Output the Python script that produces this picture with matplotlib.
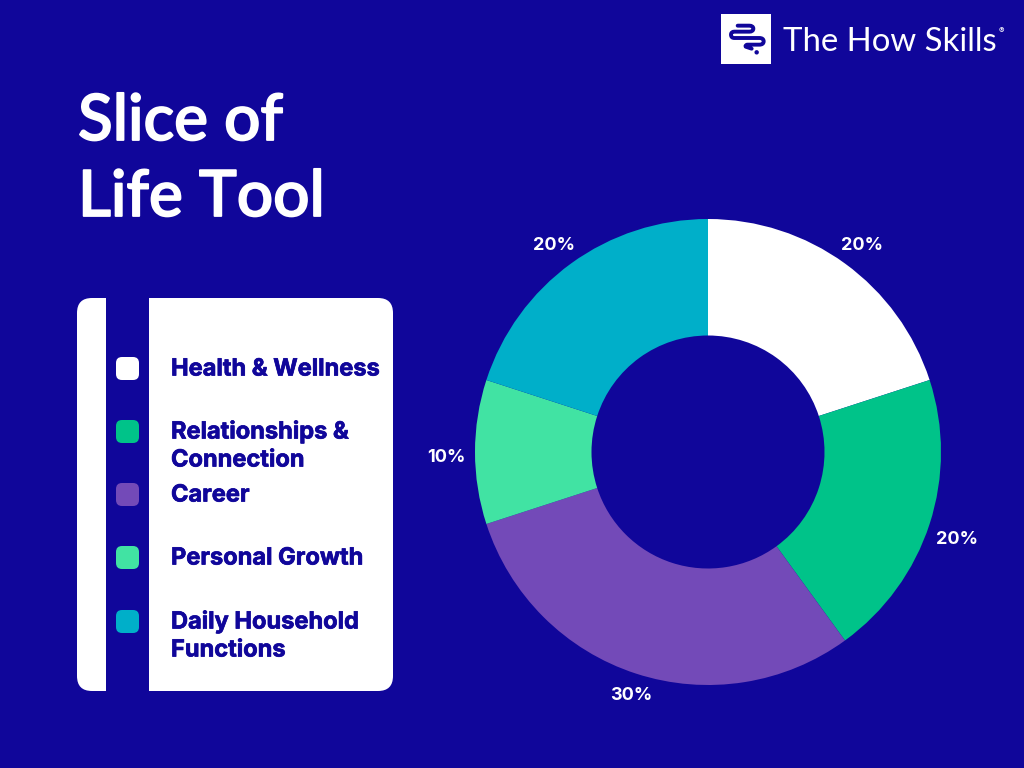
import matplotlib
matplotlib.use('Agg')
import matplotlib.pyplot as plt
import matplotlib.patheffects as pe
from matplotlib.patches import FancyBboxPatch, Rectangle, Circle
from matplotlib.path import Path
from matplotlib.patches import PathPatch

categories = ['Health & Wellness', 'Relationships &\nConnection', 'Career', 'Personal Growth', 'Daily Household\nFunctions']
values = [20, 20, 30, 10, 20]
colors = ['#FFFFFF', '#00C389', '#734AB8', '#41E3A3', '#00AFC9']
legend_y = [368, 431, 494, 557, 621]

navy = '#10069A'

fig = plt.figure(figsize=(10.24, 7.68), dpi=100, facecolor=navy)

# full page axes in pixel coords, for the panel and the texts
bg = fig.add_axes([0, 0, 1, 1])
bg.set_xlim(0, 1024)
bg.set_ylim(768, 0)
bg.axis('off')

def roundBox(x, y, w, h, r, color):
    bg.add_patch(FancyBboxPatch((x + r, y + r), w - 2 * r, h - 2 * r,
                                boxstyle='round,pad=%f,rounding_size=%f' % (r, r),
                                fc=color, ec='none'))

for title, base in zip(['Slice of', 'Life Tool'], [140, 216]):
    t = bg.text(78, base, title, color='white', fontsize=46, family='Lato', weight='medium', va='baseline', ha='left')
    t.set_path_effects([pe.withStroke(linewidth=1.3, foreground='white')])

# legend panel
roundBox(77, 298, 316, 393, 15, 'white')
bg.add_patch(Rectangle((106, 298), 43, 393, fc=navy, ec='none'))
for name, col, y in zip(categories, colors, legend_y):
    roundBox(116, y - 11, 23, 23, 6, col)
    lines = name.split('\n')
    for i, line in enumerate(lines):
        t = bg.text(171, y + 7.5 + 28 * i, line, color=navy, fontsize=17, family='Inter', weight='bold', va='baseline', ha='left')
        t.set_path_effects([pe.withStroke(linewidth=0.5, foreground=navy)])

# logo
bg.add_patch(Rectangle((721, 14), 50, 50, fc='white', ec='none'))
logo_pts = [(50, 35), (85, 35), (97, 35), (97, 44), (97, 53), (85, 53), (40, 53), (30, 53), (30, 62), (30, 72), (40, 72),
            (115, 72), (128, 72), (128, 82), (128, 92), (115, 92), (80, 92), (72, 92), (74, 98), (92, 104)]
C, L = Path.CURVE3, Path.LINETO
codes = [Path.MOVETO, L, C, C, C, C, L, C, C, C, C, L, C, C, C, C, L, C, C, L]
verts = [(721 + x / 3, 14 + y / 3) for x, y in logo_pts]
bg.add_patch(PathPatch(Path(verts, codes), fc='none', ec=navy, lw=2.8, joinstyle='round', capstyle='round'))
bg.add_patch(Circle((721 + 107 / 3, 14 + 115 / 3), 2.2, fc=navy, ec='none'))
bg.text(783, 51, 'The How Skills', color='white', fontsize=23.7, family='Lato', va='baseline', ha='left')
bg.text(999, 31, '®', color='white', fontsize=6, family='Inter', va='center', ha='left')

# donut
cx, cy, R = 708, 452, 233
ax = fig.add_axes([(cx - R) / 1024, 1 - (cy + R) / 768, 2 * R / 1024, 2 * R / 768])
ax.set_facecolor('none')
wedges, texts, autotexts = ax.pie(values, colors=colors, startangle=90, counterclock=False, radius=1,
                                  wedgeprops={'width': 0.5, 'linewidth': 0},
                                  autopct='%d%%', pctdistance=1.125,
                                  textprops={'color': 'white', 'fontsize': 13, 'family': 'Inter', 'weight': 'bold'})
ax.set_xlim(-1, 1)
ax.set_ylim(-1, 1)

# labels sit a bit off the pie's own spot in the original
for t, nudge_x, nudge_y in zip(autotexts, [0, 0, 4, 0, 0], [-6, -6, 6, -6, -6]):
    x, y = t.get_position()
    t.set_position((x + nudge_x / R, y + nudge_y / R))

fig.savefig('out.png', dpi=100, facecolor=navy)
